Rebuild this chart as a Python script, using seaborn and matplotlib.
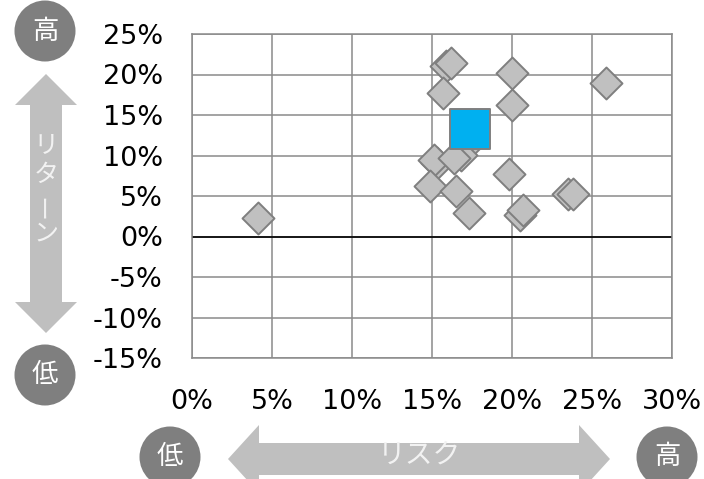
import numpy as np
import pandas as pd
import matplotlib
matplotlib.use("Agg")
import matplotlib.pyplot as plt
from matplotlib.patches import Polygon, Circle
import seaborn as sns

# risk (x) / return (y) in percent
risk = [15.9, 16.2, 20.0, 25.9, 15.7, 20.0, 17.3, 15.3, 15.1, 16.8, 16.4,
        19.8, 14.9, 16.5, 23.5, 23.8, 17.3, 20.5, 20.7, 4.1]
ret = [21.1, 21.4, 20.2, 18.9, 17.7, 16.2, 11.6, 9.1, 9.4, 10.1, 9.7,
       7.7, 6.2, 5.6, 5.2, 5.2, 2.9, 2.6, 3.3, 2.3]

# highlighted portfolio
hl_risk = [17.4]
hl_ret = [13.3]

x_ticks = [0, 5, 10, 15, 20, 25, 30]
y_ticks = [-15, -10, -5, 0, 5, 10, 15, 20, 25]

df = pd.DataFrame({"risk": risk, "ret": ret})
df_hl = pd.DataFrame({"risk": hl_risk, "ret": hl_ret})

sns.set_style("white")
plt.rcParams["font.family"] = ["DejaVu Sans", "Noto Sans CJK JP"]

W, H = 704, 479
fig = plt.figure(figsize=(W / 100, H / 100), dpi=100)

# main plot area in pixel coordinates
left, right, top, bottom = 192, 672, 34, 358
ax = fig.add_axes([left / W, 1 - bottom / H, (right - left) / W, (bottom - top) / H])

grid_c = "#8a8a8a"
sns.scatterplot(data=df, x="risk", y="ret", marker="D", s=265,
                color="#c0c0c0", edgecolor="#7f7f7f", linewidth=1.4,
                ax=ax, zorder=3)
sns.scatterplot(data=df_hl, x="risk", y="ret", marker="s", s=820,
                color="#00b0f0", edgecolor="#7f7f7f", linewidth=1.4,
                ax=ax, zorder=4)

ax.set_xlim(0, 30)
ax.set_ylim(-15, 25)
ax.set_xticks(x_ticks)
ax.set_yticks(y_ticks)
ax.set_xticklabels([f"{v}%" for v in x_ticks])
ax.set_yticklabels([f"{v}%" for v in y_ticks])
ax.set_xlabel("")
ax.set_ylabel("")
ax.grid(True, color=grid_c, lw=1.1)
ax.axhline(0, color="black", lw=1.2, zorder=2)
for sp in ax.spines.values():
    sp.set_color(grid_c)
    sp.set_linewidth(1.1)
ax.tick_params(axis="both", length=0, labelsize=19.5, colors="black")
ax.tick_params(axis="y", pad=21)
ax.tick_params(axis="x", pad=22)

# decorations (arrows and circles) on an overlay in pixel coordinates
deco = fig.add_axes([0, 0, 1, 1], zorder=-1)
deco.set_xlim(0, W)
deco.set_ylim(H, 0)
deco.axis("off")

arrow_c = "#bfbfbf"
circ_c = "#7f7f7f"
jp = "Noto Sans CJK JP"

# vertical double arrow (return)
cx = 46
v_pts = [(cx, 74), (77, 105), (62, 105), (62, 302), (77, 302), (cx, 333),
         (15, 302), (30, 302), (30, 105), (15, 105)]
deco.add_patch(Polygon(v_pts, closed=True, color=arrow_c, lw=0))

# horizontal double arrow (risk)
cy = 459
h_pts = [(228, cy), (259, cy - 34), (259, cy - 16), (579, cy - 16), (579, cy - 34),
         (610, cy), (579, cy + 34), (579, cy + 16), (259, cy + 16), (259, cy + 34)]
deco.add_patch(Polygon(h_pts, closed=True, color=arrow_c, lw=0))

for (px, py, t) in [(45, 31, "高"), (45, 375, "低"), (170, 457, "低"), (667, 457, "高")]:
    deco.add_patch(Circle((px, py), 30.5, color=circ_c, lw=0))
    deco.text(px, py, t, color="white", fontsize=19, family=jp,
              ha="center", va="center")

deco.text(419, 455, "リスク", color="#f2f2f2", fontsize=20, family=jp,
          ha="center", va="center")

for ch, yy in zip("リターン", [146, 175, 205, 234]):
    deco.text(cx, yy, ch, color="#f2f2f2", fontsize=18, family=jp,
              ha="center", va="center", rotation=90 if ch == "ー" else 0)

fig.savefig("out.png", dpi=100)
